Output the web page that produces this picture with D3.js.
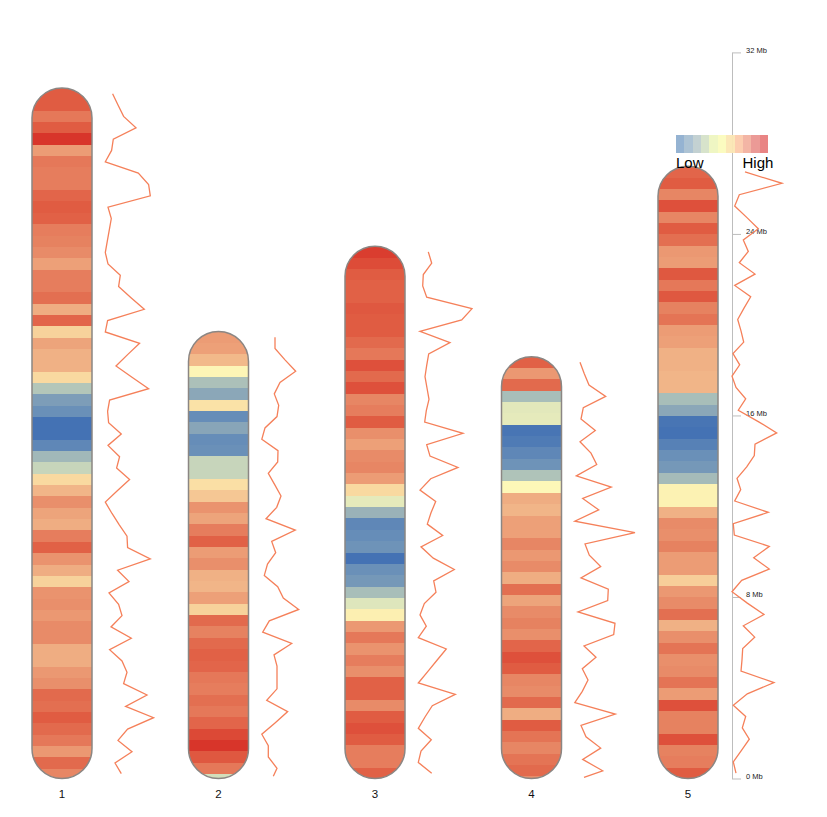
<!DOCTYPE html>
<html>
<head>
<meta charset="utf-8">
<title>Chromosome density</title>
<script src="https://cdn.jsdelivr.net/npm/d3@7"></script>
<style>
  html, body { margin: 0; padding: 0; background: #fff; }
  svg { display: block; font-family: "Liberation Sans", Arial, sans-serif; }
  .density-line { fill: none; stroke: #f5805a; stroke-width: 1.3; stroke-linejoin: miter; }
  .chrom-outline { fill: none; stroke: #8b8683; stroke-width: 1.5; }
  .axis path, .axis line { stroke: #bdbdbd; }
  .axis text { font-size: 7.5px; fill: #222; font-family: "Liberation Sans", Arial, sans-serif; }
</style>
</head>
<body>
<svg width="827" height="817"></svg>
<script>
const chromNames = ['1', '2', '3', '4', '5'];
const chromLengths = [30.43, 19.70, 23.46, 18.59, 26.98]; // Mb
const binSize = 0.5; // Mb
const axisTicks = [0, 8, 16, 24, 32];

// heat level of each bin, top of the chromosome first
const heat1 = [90, 90, 84, 90, 100, 76, 84, 83, 83, 88, 90, 89, 83, 82, 80, 75, 83, 83, 86, 72,
  88, 62, 74, 71, 71, 60, 30, 15, 10, 0, 0, 7, 25, 35, 60, 70, 79, 74, 72, 83,
  89, 78, 72, 62, 78, 79, 77, 80, 80, 72, 72, 77, 79, 87, 86, 90, 87, 84, 77, 87, 81];
const heat2 = [76, 75, 69, 51, 28, 19, 57, 9, 18, 9, 10, 35, 35, 58, 65, 78, 74, 83, 89, 76,
  79, 71, 70, 75, 62, 87, 82, 87, 89, 88, 84, 83, 86, 84, 88, 95, 100, 91, 84, 38];
const heat3 = [98, 94, 90, 89, 89, 91, 90, 90, 87, 84, 93, 87, 93, 81, 83, 90, 79, 75, 80, 81,
  76, 60, 43, 23, 7, 9, 11, 0, 10, 13, 27, 41, 53, 77, 84, 78, 83, 79, 89, 89,
  80, 90, 93, 90, 83, 83, 89];
const heat4 = [89, 77, 87, 27, 42, 43, 1, 3, 7, 11, 29, 50, 72, 70, 75, 75, 81, 77, 80, 72,
  86, 74, 80, 82, 79, 88, 93, 90, 81, 80, 87, 72, 90, 85, 81, 85, 87, 80];
const heat5 = [88, 90, 81, 93, 81, 90, 86, 77, 76, 91, 84, 91, 82, 85, 76, 75, 71, 71, 70, 70,
  27, 19, 1, 0, 5, 10, 13, 26, 52, 52, 71, 80, 79, 82, 76, 76, 63, 77, 80, 86,
  71, 79, 85, 79, 80, 85, 76, 93, 82, 82, 93, 82, 83, 90];

// density line value of each bin, same order
const density1 = [7.3, 12.7, 18.3, 30.7, 8, 6.3, 0, 33, 43.3, 45, 2.7, 6, 4, 2, 0, 2.7, 15, 13.3, 26, 39,
  2.3, 0, 34.3, 22.3, 10.7, 26.7, 43.3, 4.3, 2.3, 3.3, 16, 2.7, 14.3, 11.3, 24.3, 12, 0, 6.7, 14, 21.7,
  22.3, 45, 12.3, 23.7, 3.7, 13.3, 16.7, 5.7, 26, 4.3, 16.7, 21.7, 18.3, 41.7, 20.3, 48.3, 22.3, 12.7, 26.7, 9.7, 16];
const density2 = [13.2, 13.2, 23.2, 33.9, 18.2, 12.5, 16.9, 15.2, 3.2, 0, 16.2, 15.9, 6.5, 12.9, 19.2, 14.9, 4.2, 33.5, 9.9, 13.9,
  5.7, 2.5, 15.9, 21.5, 36.9, 7.5, 0.9, 29.9, 12.2, 15.2, 15.2, 15.2, 4.9, 25.9, 13.2, 0, 6.5, 6.5, 15.2, 11.5];
const density3 = [10, 13.4, 5, 4.4, 8.4, 53.7, 43.4, 1.7, 31.7, 10.4, 8.4, 6.7, 8.7, 10.7, 8, 6.4, 44.7, 8.4, 11.7, 39.7,
  12.4, 1.7, 17.4, 12.7, 9, 24.4, 2.7, 15, 36, 15.4, 17.7, 6, 1.7, 8, 0, 28, 18.7, 9.4, 0, 37,
  14, 6.7, 0, 13, 2.7, 0, 13.4];
const density4 = [5.2, 9.5, 14.2, 30.9, 8.5, 6.2, 20.5, 5.2, 16.2, 21.9, 1.5, 36.5, 7.9, 23.9, 0, 60.2, 10.2, 14.5, 25.9, 6.2,
  33.5, 32.9, 3.2, 40.2, 38.9, 9.2, 21.2, 7.5, 13.2, 7.5, 0, 40.5, 6.2, 11.2, 25.9, 7.9, 27.9, 9.2];
const density5 = [13.7, 50.7, 8, 3.4, 15.4, 27, 12, 17, 8, 23.7, 3.4, 19.4, 12.7, 6.4, 9.7, 12.4, 1.7, 8.4, 0.7, 4.7,
  14.4, 7, 27, 45.4, 23.7, 23, 15.4, 5.7, 9.4, 3.4, 37, 2, 3, 38, 22.4, 38, 10.4, 0.7, 16, 32.7,
  12, 23.4, 11.4, 10.7, 9.7, 42.7, 16, 2, 14.4, 11, 18, 10, 2, 4.7];

const heats = [heat1, heat2, heat3, heat4, heat5];
const densities = [density1, density2, density3, density4, density5];

const heatLevels = [0, 10, 20, 30, 40, 50, 60, 70, 80, 90, 100];
const heatColours = ['#4472b4', '#6a90b8', '#8faab8', '#b3c6b9', '#dbe4bc', '#fdf8b8',
  '#f9d9a0', '#f1b588', '#e88b68', '#e05c42', '#d8352a'];
const legendColours = ['#8fafd0', '#a9c0d2', '#c0cfd0', '#d5e1c8', '#eef5c0', '#fbfbbd',
  '#fbe6b3', '#fccaab', '#f2b1a0', '#ea9590', '#e87d7d'];

const svg = d3.select('svg');

const barWidth = 60;
const lineGap = 13.3;

const x_chrom = d3.scaleLinear().domain([0, 4]).range([32, 658]);
const y_mb = d3.scaleLinear().domain([0, 32]).range([778.5, 52.4]);
const x_density = d3.scaleLinear().domain([0, 60]).range([0, 60]);
const heat_colour = d3.scaleLinear().domain(heatLevels).range(heatColours);

// the Mb scale, drawn first so the chromosome 5 line runs over it
const axis_right = d3.axisRight(y_mb)
  .tickValues(axisTicks)
  .tickSize(9)
  .tickPadding(5)
  .tickSizeOuter(0)
  .tickFormat(d => d + ' Mb');

const axis_g = svg.append('g')
  .attr('class', 'axis')
  .attr('transform', 'translate(732,0)')
  .call(axis_right);
axis_g.selectAll('text').attr('dy', '-0.02em');

chromNames.forEach((name, c) => {
  const length = chromLengths[c];
  const left = x_chrom(c);
  const top = y_mb(length);
  const bottom = y_mb(0);
  // distance from the top of the chromosome to y pixels
  const y_pos = d3.scaleLinear().domain([0, length]).range([top, bottom]);

  const bins = heats[c].map((value, i) => {
    const start = i * binSize;
    const end = Math.min((i + 1) * binSize, length);
    return { value, start, end, density: densities[c][i] };
  });

  const g = svg.append('g');

  g.append('clipPath')
    .attr('id', 'clip-' + name)
    .append('rect')
    .attr('x', left)
    .attr('y', top)
    .attr('width', barWidth)
    .attr('height', bottom - top)
    .attr('rx', barWidth / 2)
    .attr('ry', barWidth / 2);

  g.append('g')
    .attr('clip-path', `url(#clip-${name})`)
    .selectAll('rect')
    .data(bins)
    .join('rect')
    .attr('x', left)
    .attr('width', barWidth)
    .attr('y', d => y_pos(d.start))
    .attr('height', d => y_pos(d.end) - y_pos(d.start))
    .attr('shape-rendering', 'crispEdges')
    .attr('fill', d => heat_colour(d.value));

  g.append('rect')
    .attr('class', 'chrom-outline')
    .attr('x', left)
    .attr('y', top)
    .attr('width', barWidth)
    .attr('height', bottom - top)
    .attr('rx', barWidth / 2)
    .attr('ry', barWidth / 2);

  const line_creator = d3.line()
    .x(d => left + barWidth + lineGap + x_density(d.density))
    .y(d => y_pos((d.start + d.end) / 2));

  g.append('path')
    .attr('class', 'density-line')
    .attr('d', line_creator(bins));

  g.append('text')
    .attr('x', left + barWidth / 2)
    .attr('y', 798)
    .attr('text-anchor', 'middle')
    .attr('font-size', 11.5)
    .attr('fill', '#111')
    .text(name);
});

// legend
const x_legend = d3.scaleBand()
  .domain(d3.range(legendColours.length))
  .range([676, 768]);

svg.append('g')
  .selectAll('rect')
  .data(legendColours)
  .join('rect')
  .attr('x', (d, i) => x_legend(i))
  .attr('y', 134.5)
  .attr('width', x_legend.bandwidth())
  .attr('height', 18.3)
  .attr('shape-rendering', 'crispEdges')
  .attr('fill', d => d)
  .attr('fill-opacity', 0.95);

svg.append('text')
  .attr('x', 676)
  .attr('y', 167.5)
  .attr('font-size', 15)
  .attr('fill', '#000')
  .text('Low');

svg.append('text')
  .attr('x', 742.5)
  .attr('y', 167.5)
  .attr('font-size', 15)
  .attr('fill', '#000')
  .text('High');
</script>
</body>
</html>
